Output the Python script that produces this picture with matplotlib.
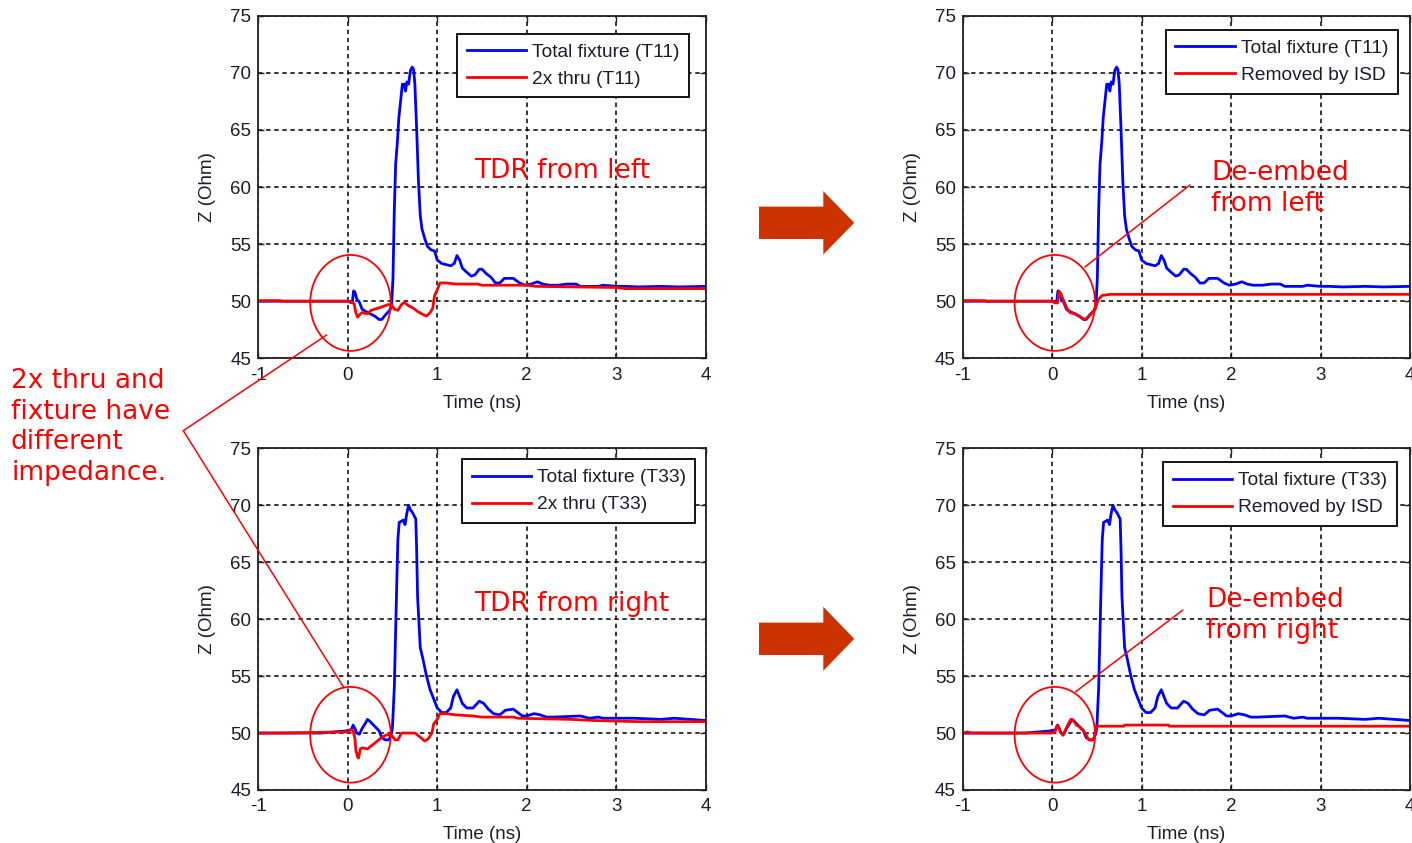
import numpy as np
import matplotlib.pyplot as plt
from matplotlib.patches import Ellipse, Polygon

W, H = 1412, 843

# TDR impedance traces (time in ns, Z in Ohm)
t_fix11 = [-1.0, 0.0, 0.03, 0.05, 0.065, 0.08, 0.1, 0.13, 0.16, 0.2, 0.25, 0.3, 0.35, 0.38,
           0.42, 0.47, 0.49, 0.505, 0.52, 0.535, 0.555, 0.57, 0.59, 0.61, 0.63, 0.645, 0.66,
           0.68, 0.7, 0.72, 0.735, 0.75, 0.77, 0.79, 0.81, 0.83, 0.86, 0.89, 0.93, 0.97, 1.0,
           1.05, 1.1, 1.15, 1.19, 1.22, 1.25, 1.28, 1.32, 1.38, 1.42, 1.47, 1.5, 1.55, 1.6,
           1.65, 1.7, 1.75, 1.85, 1.92, 1.98, 2.05, 2.12, 2.18, 2.25, 2.35, 2.45, 2.55, 2.6,
           2.8, 2.85, 3.0, 3.1, 3.25, 3.5, 3.7, 4.0]
z_fix11 = [50.0, 50.0, 49.9, 49.9, 50.9, 50.8, 50.2, 49.9, 49.3, 49.1, 48.9, 48.7, 48.4, 48.4,
           48.8, 49.2, 49.7, 52.0, 58.0, 62.0, 64.0, 66.0, 67.5, 69.0, 69.0, 68.4, 69.2,
           69.0, 70.2, 70.5, 70.3, 69.0, 65.0, 60.5, 57.5, 56.3, 55.5, 54.8, 54.5, 54.4, 53.6,
           53.3, 53.2, 53.1, 53.3, 54.0, 53.6, 52.9, 52.6, 52.2, 52.3, 52.8, 52.8, 52.4, 52.1,
           51.6, 51.6, 52.0, 52.0, 51.6, 51.4, 51.5, 51.7, 51.5, 51.4, 51.4, 51.5, 51.5, 51.3,
           51.3, 51.4, 51.3, 51.3, 51.25, 51.3, 51.25, 51.3]

t_thru11 = [-1.0, -0.75, -0.74, 0.0, 0.04, 0.07, 0.09, 0.11, 0.13, 0.16, 0.22, 0.26, 0.3, 0.38,
            0.45, 0.49, 0.52, 0.56, 0.6, 0.63, 0.68, 0.73, 0.78, 0.85, 0.88, 0.92, 0.95, 0.97,
            1.0, 1.03, 1.1, 1.2, 1.45, 1.5, 2.0, 2.1, 3.0, 3.1, 4.0]
z_thru11 = [50.05, 50.05, 50.0, 50.0, 49.9, 49.8, 49.0, 48.6, 48.8, 49.0, 48.9, 49.2, 49.3, 49.5,
            49.7, 49.7, 49.3, 49.2, 49.7, 49.9, 49.6, 49.4, 49.1, 48.8, 48.7, 49.0, 49.4, 50.5,
            51.0, 51.6, 51.6, 51.5, 51.5, 51.4, 51.4, 51.3, 51.2, 51.1, 51.1]

t_isd11 = [-1.0, -0.75, -0.74, 0.0, 0.03, 0.06, 0.08, 0.1, 0.13, 0.17, 0.2, 0.26, 0.3, 0.36,
           0.4, 0.45, 0.48, 0.5, 0.52, 0.56, 0.65, 4.0]
z_isd11 = [50.05, 50.05, 50.0, 50.0, 49.85, 49.85, 50.85, 50.6, 50.0, 49.3, 49.0, 48.9, 48.7, 48.4,
           48.6, 49.0, 49.3, 49.8, 50.2, 50.5, 50.6, 50.6]

t_fix33 = [-1.0, -0.3, 0.0, 0.04, 0.06, 0.08, 0.1, 0.13, 0.16, 0.2, 0.22, 0.25, 0.3, 0.35, 0.38,
           0.42, 0.46, 0.49, 0.5, 0.52, 0.535, 0.55, 0.56, 0.575, 0.6, 0.62, 0.64, 0.66, 0.68,
           0.7, 0.72, 0.76, 0.77, 0.78, 0.8, 0.81, 0.84, 0.88, 0.92, 0.96, 1.0, 1.05, 1.1, 1.15,
           1.18, 1.22, 1.25, 1.28, 1.33, 1.4, 1.47, 1.52, 1.57, 1.63, 1.7, 1.76, 1.85, 1.9, 1.95,
           2.0, 2.08, 2.15, 2.22, 2.3, 2.6, 2.7, 2.8, 2.85, 3.2, 3.5, 3.65, 4.0]
z_fix33 = [50.0, 50.0, 50.2, 50.3, 50.7, 50.4, 50.0, 49.9, 50.4, 50.9, 51.2, 51.0, 50.6, 50.2, 49.6,
           49.4, 49.4, 50.0, 50.6, 54.0, 59.0, 64.0, 67.0, 68.5, 68.6, 68.7, 68.3, 69.3, 70.0,
           69.6, 69.4, 68.8, 66.0, 62.0, 59.0, 57.5, 56.5, 55.0, 53.8, 53.0, 52.2, 51.8, 51.8, 52.2,
           53.2, 53.8, 53.2, 52.6, 52.2, 52.2, 52.8, 52.6, 52.1, 51.7, 51.6, 52.0, 52.1, 51.8, 51.5,
           51.5, 51.7, 51.6, 51.4, 51.4, 51.5, 51.3, 51.4, 51.3, 51.3, 51.2, 51.3, 51.1]

t_thru33 = [-1.0, -0.75, 0.0, 0.03, 0.06, 0.08, 0.09, 0.11, 0.12, 0.14, 0.16, 0.22, 0.25, 0.3,
            0.36, 0.42, 0.47, 0.5, 0.53, 0.56, 0.6, 0.75, 0.8, 0.86, 0.9, 0.94, 0.96, 1.0, 1.03,
            1.1, 1.2, 1.4, 1.5, 1.85, 1.9, 2.5, 2.75, 3.25, 4.0]
z_thru33 = [50.0, 50.0, 50.1, 50.3, 50.2, 49.5, 48.5, 47.9, 47.8, 48.6, 48.7, 48.6, 48.8, 49.1,
            49.5, 49.8, 49.9, 49.7, 49.4, 49.4, 50.0, 50.0, 49.7, 49.3, 49.5, 50.0, 50.8, 51.2, 51.7,
            51.7, 51.6, 51.5, 51.4, 51.4, 51.3, 51.2, 51.1, 51.0, 51.0]

t_isd33 = [-1.0, -0.95, -0.9, 0.0, 0.03, 0.05, 0.07, 0.09, 0.12, 0.15, 0.18, 0.21, 0.24, 0.27,
           0.3, 0.34, 0.37, 0.4, 0.42, 0.45, 0.47, 0.48, 0.49, 0.8, 0.81, 1.3, 1.31, 4.0]
z_isd33 = [50.0, 50.1, 50.0, 50.0, 50.1, 50.6, 50.6, 50.1, 49.8, 50.3, 50.8, 51.2, 51.1, 50.7,
           50.6, 50.3, 50.0, 49.5, 49.4, 49.4, 49.6, 50.0, 50.6, 50.6, 50.7, 50.7, 50.6, 50.6]

xticks = [-1, 0, 1, 2, 3, 4]
yticks = [45, 50, 55, 60, 65, 70, 75]

RED = '#ff0000'
BLUE = '#0000ff'
INK = '#1c1c2c'

plt.rcParams['font.family'] = ['Liberation Sans', 'DejaVu Sans']
plt.rcParams['axes.unicode_minus'] = False


def px_rect(l, t, r, b):
    return [l / W, 1 - b / H, (r - l) / W, (b - t) / H]


def setup(ax):
    ax.set_xlim(-1, 4)
    ax.set_ylim(45, 75)
    ax.set_xticks(xticks)
    ax.set_yticks(yticks)
    ax.grid(True, color='black', linestyle=(0, (2.9, 2.4)), linewidth=1.1)
    ax.tick_params(direction='in', length=4, width=1.0, top=True, right=True,
                   labelsize=13.5, labelcolor=INK, color='#222222')
    ax.tick_params(axis='x', pad=6)
    ax.tick_params(axis='y', pad=5)
    for s in ax.spines.values():
        s.set_color('#222222')
        s.set_linewidth(1.3)
    ax.set_xlabel('Time (ns)', fontsize=13.5, color=INK, labelpad=8)
    ax.set_ylabel('Z (Ohm)', fontsize=13.5, color=INK, labelpad=10)


def legend(ax, anchor):
    leg = ax.legend(loc='upper right', bbox_to_anchor=anchor, borderaxespad=0,
                    fontsize=13.8, fancybox=False, framealpha=1, edgecolor='black',
                    handlelength=3.1, handletextpad=0.3, borderpad=0.5, labelspacing=0.5)
    leg.get_frame().set_linewidth(1.3)
    for txt in leg.get_texts():
        txt.set_color(INK)


def circle(ax):
    ax.add_patch(Ellipse((0.03, 49.85), 0.9, 8.4, fill=False, edgecolor=RED,
                         linewidth=1.3, zorder=5))


fig = plt.figure(figsize=(W / 100, H / 100), dpi=100)

ax_tl = fig.add_axes(px_rect(258.3, 15.7, 705.7, 358.3))
ax_tr = fig.add_axes(px_rect(962.7, 15.7, 1410, 358.3))
ax_bl = fig.add_axes(px_rect(258.3, 448.3, 705.7, 790))
ax_br = fig.add_axes(px_rect(962.7, 448.3, 1410, 790))

panels = [
    (ax_tl, t_fix11, z_fix11, 'Total fixture (T11)', t_thru11, z_thru11, '2x thru (T11)', (0.963, 0.947)),
    (ax_tr, t_fix11, z_fix11, 'Total fixture (T11)', t_isd11, z_isd11, 'Removed by ISD', (0.9725, 0.958)),
    (ax_bl, t_fix33, z_fix33, 'Total fixture (T33)', t_thru33, z_thru33, '2x thru (T33)', (0.977, 0.968)),
    (ax_br, t_fix33, z_fix33, 'Total fixture (T33)', t_isd33, z_isd33, 'Removed by ISD', (0.970, 0.959)),
]

for ax, tb, zb, lb, tr, zr, lr, anc in panels:
    setup(ax)
    ax.plot(tb, zb, color=BLUE, linewidth=2.0, label=lb)
    ax.plot(tr, zr, color=RED, linewidth=2.0, label=lr)
    legend(ax, anc)
    circle(ax)

# captions inside the panels (va='baseline' pins the last line of a block)
note = dict(color=RED, fontsize=19, family='DejaVu Sans', va='baseline', ha='left',
            linespacing=1.23, zorder=6)
ax_tl.text(1.41, 60.79, 'TDR from left', **note)
ax_bl.text(1.41, 60.72, 'TDR from right', **note)
ax_tr.text(1.776, 57.90, 'De-embed\nfrom left', **note)
ax_br.text(1.72, 58.37, 'De-embed\nfrom right', **note)

# leader lines from the captions to the circled region
lead = dict(arrowprops=dict(arrowstyle='-', color=RED, linewidth=1.1,
                            shrinkA=0, shrinkB=0))
ax_tr.annotate('', xy=(0.367, 53.0), xytext=(1.541, 60.18), **lead)
ax_br.annotate('', xy=(0.263, 53.63), xytext=(1.46, 60.8), **lead)

hub = (183.3 / W, 1 - 430.7 / H)
ax_tl.annotate('', xy=(-0.236, 47.04), xytext=hub, textcoords='figure fraction',
               annotation_clip=False, **lead)
ax_bl.annotate('', xy=(-0.05, 54.07), xytext=hub, textcoords='figure fraction',
               annotation_clip=False, **lead)

fig.text(11 / W, 1 - 480 / H, '2x thru and\nfixture have\ndifferent\nimpedance.',
         color=RED, fontsize=19, family='DejaVu Sans', va='baseline', ha='left',
         linespacing=1.23)


# block arrows between the columns
def block_arrow(x0, x1, x2, yc, body, head):
    pts = [(x0, yc - body), (x1, yc - body), (x1, yc - head), (x2, yc),
           (x1, yc + head), (x1, yc + body), (x0, yc + body)]
    pts = [(x / 100, (H - y) / 100) for x, y in pts]
    fig.add_artist(Polygon(pts, closed=True, facecolor='#cc3300', edgecolor='none',
                           transform=fig.dpi_scale_trans))


block_arrow(759, 823.3, 854.3, 222.8, 16.2, 31.7)
block_arrow(759, 823.3, 854.3, 638.8, 16.2, 32.0)

fig.savefig('out.png', dpi=100)
